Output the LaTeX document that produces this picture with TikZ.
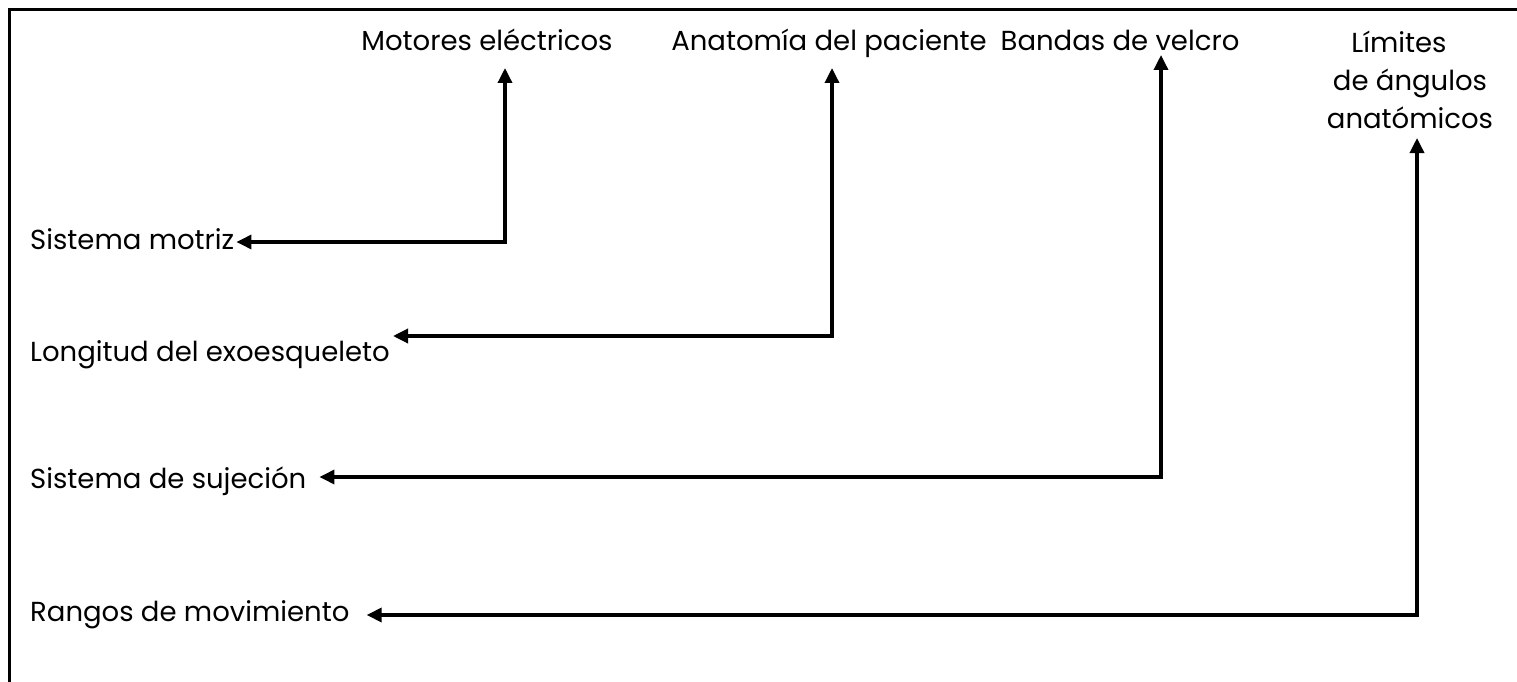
\documentclass[tikz,border=0pt]{standalone}
\usepackage{fontspec}
\setmainfont{Poppins}
\usetikzlibrary{arrows.meta}
\begin{document}
\begin{tikzpicture}[x=1pt,y=-1pt,
  lbl/.style={inner sep=0pt,font=\fontsize{27.5}{38}\selectfont},
  conn/.style={line width=3.4pt,{Triangle[length=15pt,width=14pt]}-{Triangle[length=15pt,width=14pt]}},
  frame/.style={line width=3.2pt}]
\useasboundingbox (0,0) rectangle (1517,682);
\draw[frame] (8,9.5) -- (1517,9.5);
\draw[line width=2.6pt] (9.5,8) -- (9.5,682);
% top labels
\node[lbl,anchor=base] (me) at (487,51) {Motores eléctricos};
\node[lbl,anchor=base] (ap) at (829,51) {Anatomía del paciente};
\node[lbl,anchor=base] (bv) at (1120,51) {Bandas de velcro};
\node[lbl,anchor=south,align=center] (la) at (1410,129) {Límites\hspace*{22pt}\\de ángulos\\anatómicos};
% left labels
\node[lbl,anchor=base west] (sm) at (30,249) {Sistema motriz};
\node[lbl,anchor=base west] (ld) at (30,361) {Longitud del exoesqueleto};
\node[lbl,anchor=base west] (ss) at (30,488) {Sistema de sujeción};
\node[lbl,anchor=base west] (rm) at (30,621) {Rangos de movimiento};
% corners
\coordinate (c1) at (505,242);
\coordinate (c2) at (832,336);
\coordinate (c3) at (1161,477);
\coordinate (c4) at (1417,615);
% connectors
\draw[conn] ([yshift=-17pt]me.base -| c1) -- (c1) -- ([xshift=2pt]sm.east |- c1);
\draw[conn] ([yshift=-17pt]ap.base -| c2) -- (c2) -- ([xshift=3pt]ld.east |- c2);
\draw[conn] ([yshift=-4pt]bv.base -| c3) -- (c3) -- ([xshift=13pt]ss.east |- c3);
\draw[conn] ([yshift=-9pt]la.south -| c4) -- (c4) -- ([xshift=17pt]rm.east |- c4);
\end{tikzpicture}
\end{document}
